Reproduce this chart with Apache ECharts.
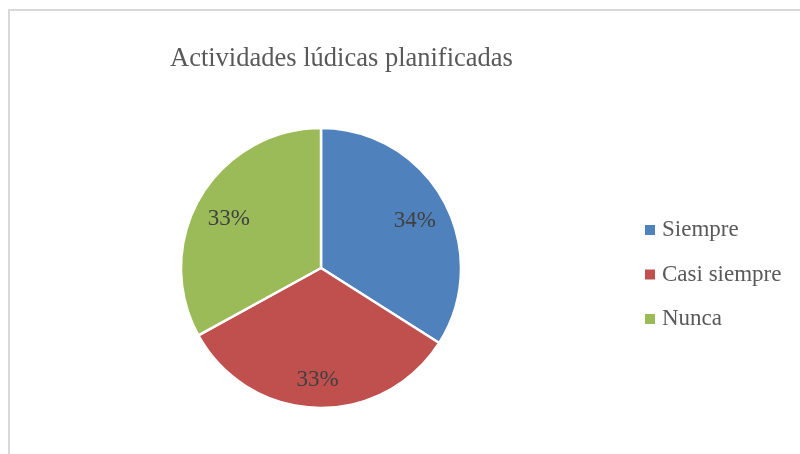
<!DOCTYPE html>
<html>
<head>
<meta charset="utf-8">
<script src="https://cdn.jsdelivr.net/npm/echarts@6/dist/echarts.min.js"></script>
<style>
html,body{margin:0;padding:0;background:#fff;}
#frame{position:absolute;left:8px;top:9px;width:800px;height:460px;border-top:2px solid #d9d9d9;border-left:2px solid #d9d9d9;box-sizing:border-box;}
#chart{position:absolute;left:0;top:0;width:800px;height:454px;}
</style>
</head>
<body>
<div id="frame"></div>
<div id="chart"></div>
<script>
const titleText = 'Actividades lúdicas planificadas';
const categories = ['Siempre', 'Casi siempre', 'Nunca'];
const values = [34, 33, 33];
const colors = ['#4f81bd', '#c0504d', '#9bbb59'];

const data = categories.map((c, i) => ({ name: c, value: values[i] }));
const font = '"Liberation Serif", "Times New Roman", serif';

const chart = echarts.init(document.getElementById('chart'));
chart.setOption({
  animation: false,
  color: colors,
  title: {
    text: titleText,
    left: 170, top: 46, padding: 0,
    textStyle: { fontFamily: font, fontSize: 26.5, fontWeight: 'normal', color: '#595959' }
  },
  legend: {
    orient: 'vertical',
    left: 643, top: 217.5,
    padding: 0,
    itemWidth: 12, itemHeight: 12,
    itemGap: 19.5,
    icon: 'rect',
    data: categories,
    textStyle: { fontFamily: font, fontSize: 23, color: '#595959', lineHeight: 23, padding: [2, 0, 0, 1] }
  },
  series: [
    {
      type: 'pie',
      center: [321, 268],
      radius: [0, 140],
      startAngle: 90,
      clockwise: true,
      data: data,
      label: { show: false },
      labelLine: { show: false },
      itemStyle: { borderColor: '#ffffff', borderWidth: 2.5 },
      emphasis: { disabled: true }
    },
    {
      type: 'pie',
      center: [321, 268],
      radius: [68, 140],
      startAngle: 90,
      clockwise: true,
      silent: true,
      data: data,
      itemStyle: { color: 'rgba(0,0,0,0)', borderWidth: 0 },
      label: {
        show: true, position: 'inside',
        formatter: p => Math.round(p.percent) + '%',
        fontFamily: font, fontSize: 23, color: '#404040',
        offset: [0, 5]
      },
      labelLine: { show: false },
      emphasis: { disabled: true }
    }
  ]
});
</script>
</body>
</html>
